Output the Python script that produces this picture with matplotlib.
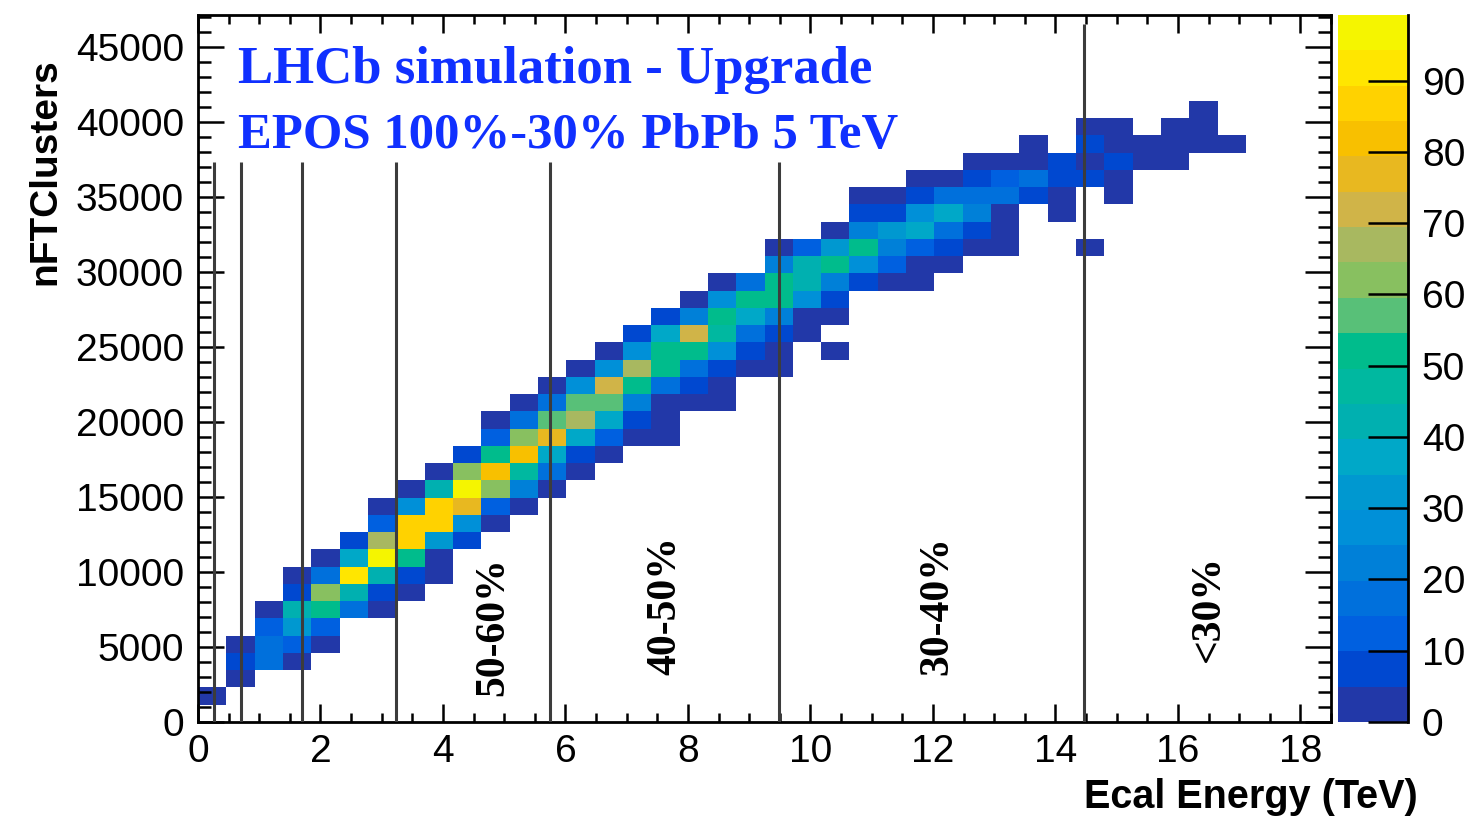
import numpy as np
import matplotlib
matplotlib.use("Agg")
import matplotlib.pyplot as plt
from matplotlib.colors import ListedColormap, BoundaryNorm

# ---------------- data ----------------
x_bin_width = 0.4625      # TeV
y_bin_width = 1150        # clusters
n_xbins = 40
n_ybins = 41

# each row j (y bin): first filled x bin and cell contents (None = empty)
row_start = {
    1: 0, 2: 1, 3: 1, 4: 1, 5: 2, 6: 2, 7: 3, 8: 3, 9: 4, 10: 5,
    11: 6, 12: 6, 13: 7, 14: 8, 15: 9, 16: 10, 17: 10, 18: 11, 19: 12, 20: 13,
    21: 14, 22: 15, 23: 16, 24: 17, 25: 18, 26: 20, 27: 20, 28: 22, 29: 23, 30: 23,
    31: 25, 32: 27, 33: 29, 34: 31, 35: 35,
}
row_vals = {
    1: [2.5],
    2: [2.5],
    3: [7.5, 17.5, 2.5],
    4: [2.5, 17.5, 12.5, 2.5],
    5: [12.5, 32.5, 12.5],
    6: [2.5, 42.5, 52.5, 17.5, 2.5],
    7: [7.5, 62.5, 42.5, 7.5, 2.5],
    8: [2.5, 17.5, 92.5, 42.5, 7.5, 2.5],
    9: [2.5, 37.5, 97, 52.5, 2.5],
    10: [7.5, 67.5, 87.5, 32.5, 7.5],
    11: [12.5, 87.5, 87.5, 27.5, 2.5],
    12: [2.5, 27.5, 87.5, 77.5, 12.5, 2.5],
    13: [2.5, 42.5, 97, 62.5, 22.5, 2.5],
    14: [2.5, 62.5, 82.5, 47.5, 17.5, 2.5],
    15: [7.5, 52.5, 82.5, 37.5, 7.5, 2.5],
    16: [12.5, 62.5, 77.5, 37.5, 12.5, 2.5, 2.5],
    17: [2.5, 17.5, 57.5, 67.5, 37.5, 7.5, 2.5],
    18: [2.5, 17.5, 57.5, 57.5, 22.5, 2.5, 2.5, 2.5],
    19: [2.5, 27.5, 72.5, 52.5, 17.5, 7.5, 2.5],
    20: [2.5, 27.5, 67.5, 52.5, 17.5, 7.5, 2.5, 2.5],
    21: [2.5, 27.5, 52.5, 52.5, 27.5, 7.5, 2.5, None, 2.5],
    22: [7.5, 37.5, 72.5, 47.5, 17.5, 7.5, 2.5],
    23: [7.5, 22.5, 52.5, 37.5, 22.5, 2.5, 2.5],
    24: [2.5, 27.5, 52.5, 52.5, 27.5, 7.5],
    25: [2.5, 17.5, 52.5, 42.5, 22.5, 7.5, 2.5, 2.5],
    26: [22.5, 42.5, 52.5, 27.5, 12.5, 2.5, 2.5],
    27: [2.5, 12.5, 32.5, 52.5, 22.5, 12.5, 7.5, 2.5, 2.5, None, None, 2.5],
    28: [2.5, 22.5, 32.5, 37.5, 17.5, 7.5, 2.5],
    29: [7.5, 7.5, 27.5, 37.5, 22.5, 2.5, None, 2.5],
    30: [2.5, 2.5, 7.5, 17.5, 17.5, 17.5, 7.5, 2.5, None, 2.5],
    31: [2.5, 2.5, 7.5, 12.5, 17.5, 7.5, 7.5, 2.5],
    32: [2.5, 2.5, 2.5, 7.5, 2.5, 7.5, 2.5, 2.5],
    33: [2.5, None, 7.5, 2.5, 2.5, 2.5, 2.5, 2.5],
    34: [2.5, 2.5, None, 2.5, 2.5],
    35: [2.5],
}

# centrality cut lines (Ecal energy, TeV) and their top ends
cut_energy = [0.26, 0.70, 1.70, 3.23, 5.75, 9.49, 14.47]
cut_top = [37300, 37300, 37300, 37300, 37300, 37300, 46500]

# centrality labels
cent_labels = ["50-60%", "40-50%", "30-40%", "<30%"]
cent_x = [4.82, 7.63, 12.07, 16.5]
cent_y = [1700, 3150, 3150, 4000]

z_max = 99.2
cbar_ticks = [0, 10, 20, 30, 40, 50, 60, 70, 80, 90]

# ---------------- build histogram ----------------
Z = np.full((n_ybins, n_xbins), np.nan)
for j, start in row_start.items():
    for k, v in enumerate(row_vals[j]):
        if v is not None:
            Z[j, start + k] = v
Zm = np.ma.masked_invalid(Z)
xedges = np.arange(n_xbins + 1) * x_bin_width
yedges = np.arange(n_ybins + 1) * y_bin_width

bird = ["#2238a8", "#0048d0", "#0060e0", "#0070dc", "#0080d8", "#0090d8",
        "#0098d0", "#00a8c8", "#00b0b0", "#00b8a0", "#00bc8c", "#58c078",
        "#88c060", "#a8b860", "#d0b448", "#e8b820", "#f8c000", "#ffd200",
        "#ffe600", "#f5f500"]
cmap = ListedColormap(bird)
levels = np.linspace(0, z_max, len(bird) + 1)
norm = BoundaryNorm(levels, cmap.N)

# ---------------- figure ----------------
sans = ["Liberation Sans", "DejaVu Sans"]
serif = ["Liberation Serif", "DejaVu Serif"]
plt.rcParams["font.family"] = sans

fig = plt.figure(figsize=(14.72, 8.19), dpi=100)
ax = fig.add_axes([198 / 1472, 1 - 722 / 819, (1331 - 198) / 1472, (722 - 15) / 819])

mesh = ax.pcolormesh(xedges, yedges, Zm, cmap=cmap, norm=norm,
                     edgecolors="none", antialiased=False)

ax.set_xlim(0, 18.5)
ax.set_ylim(0, 47130)

ax.vlines(cut_energy, 0, cut_top, colors="#3c3c3c", linewidth=2.2, zorder=3)

for lab, x, y in zip(cent_labels, cent_x, cent_y):
    ax.text(x, y, lab, rotation=90, ha="center", va="bottom",
            fontsize=30, fontweight="bold", family=serif, color="black")

ax.text(0.653, 42600, "LHCb simulation - Upgrade", fontsize=38, fontweight="bold",
        family=serif, color="#1030ff", ha="left", va="baseline")
ax.text(0.653, 38250, "EPOS 100%-30% PbPb 5 TeV", fontsize=36.5, fontweight="bold",
        family=serif, color="#1030ff", ha="left", va="baseline")

ax.set_xticks(np.arange(0, 18.01, 2))
ax.set_xticks(np.arange(0, 18.51, 0.5), minor=True)
ax.set_yticks(np.arange(0, 45001, 5000))
ax.set_yticks(np.arange(0, 47001, 1000), minor=True)
ax.set_xticklabels([f"{int(v)}" for v in np.arange(0, 18.01, 2)])
ax.set_yticklabels([f"{int(v)}" for v in np.arange(0, 45001, 5000)])

ax.tick_params(axis="both", which="both", direction="in", top=True, right=True,
               labelsize=28, width=1.8, color="black")
ax.tick_params(axis="x", which="major", length=13, pad=9)
ax.tick_params(axis="x", which="minor", length=6.5)
ax.tick_params(axis="y", which="major", length=19, pad=10)
ax.tick_params(axis="y", which="minor", length=9.5)
for s in ax.spines.values():
    s.set_linewidth(2)

fig.text(1418 / 1472, 1 - 797 / 819, "Ecal Energy (TeV)", fontsize=28.5,
         fontweight="bold", ha="right", va="center")
fig.text(45 / 1472, 1 - 172 / 819, "nFTClusters", fontsize=28,
         fontweight="bold", ha="center", va="center", rotation=90)

# ---------------- colour bar ----------------
cax = fig.add_axes([1338 / 1472, 1 - 722 / 819, 70 / 1472, (722 - 15) / 819])
cb = fig.colorbar(mesh, cax=cax, ticks=cbar_ticks)
cb.outline.set_visible(False)
cax.plot([1, 1], [0, 1], transform=cax.transAxes, color="black", lw=2, clip_on=False)
cax.minorticks_off()
cax.tick_params(direction="in", length=29, width=1.8, labelsize=28, pad=10,
                right=True, left=False)

fig.savefig("out.png", dpi=100)
